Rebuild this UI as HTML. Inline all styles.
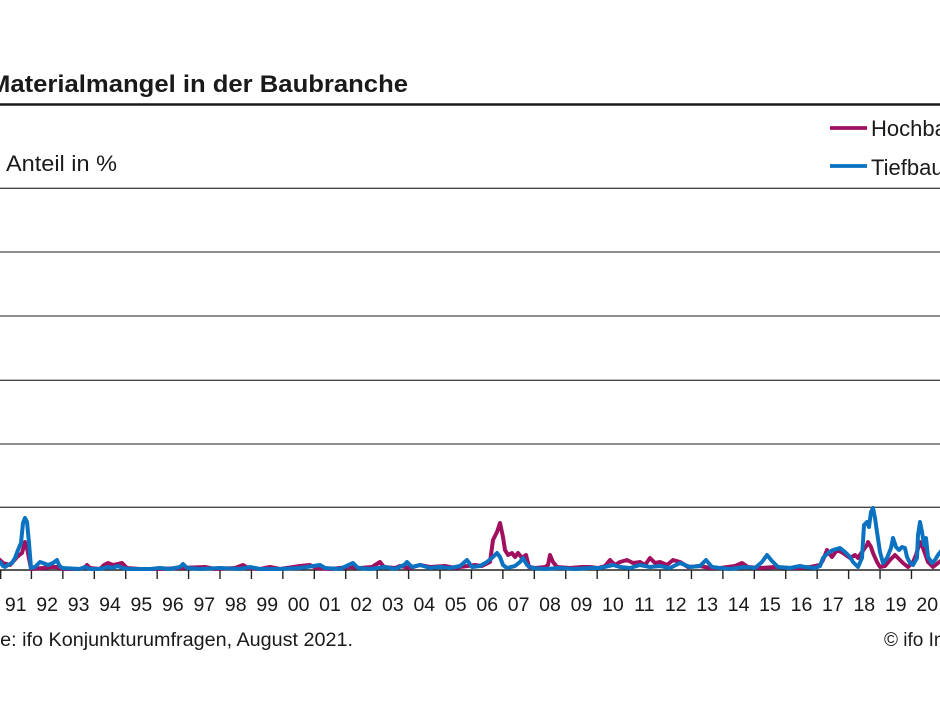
<!DOCTYPE html>
<html>
<head>
<meta charset="utf-8">
<style>
  html,body{margin:0;padding:0;background:#fff;}
  body{width:940px;height:705px;overflow:hidden;}
  svg{display:block;}
  text{font-family:"Liberation Sans",sans-serif;fill:#1a1a1a;}
</style>
</head>
<body>
<svg width="940" height="705" viewBox="0 0 940 705" xmlns="http://www.w3.org/2000/svg">
  <rect width="940" height="705" fill="#fff"/>
  <!-- Title -->
  <text x="-11" y="92" font-size="24" font-weight="bold" textLength="419" lengthAdjust="spacingAndGlyphs">Materialmangel in der Baubranche</text>
  <line x1="0" y1="104.5" x2="940" y2="104.5" stroke="#1a1a1a" stroke-width="2.4"/>

  <!-- Unit label -->
  <text x="6" y="171" font-size="22" textLength="111" lengthAdjust="spacingAndGlyphs">Anteil in %</text>

  <!-- Legend -->
  <line x1="830" y1="128" x2="867" y2="128" stroke="#a0105f" stroke-width="3.8"/>
  <text x="871" y="136" font-size="22">Hochbau</text>
  <line x1="830" y1="166" x2="867" y2="166" stroke="#0a72c0" stroke-width="3.8"/>
  <text x="871" y="175" font-size="22">Tiefbau</text>

  <!-- Gridlines -->
  <g stroke="#4a4a4a" stroke-width="1.3">
    <line x1="0" y1="188.3" x2="940" y2="188.3"/>
    <line x1="0" y1="252" x2="940" y2="252"/>
    <line x1="0" y1="316" x2="940" y2="316"/>
    <line x1="0" y1="380.3" x2="940" y2="380.3"/>
    <line x1="0" y1="444" x2="940" y2="444"/>
    <line x1="0" y1="507.3" x2="940" y2="507.3"/>
  </g>

  <!-- Axis -->
  <line x1="0" y1="570" x2="940" y2="570" stroke="#222" stroke-width="1.4"/>
  <g stroke="#222" stroke-width="1.4">
    <line x1="0.7" y1="570" x2="0.7" y2="579"/>
    <line x1="31.43" y1="570" x2="31.43" y2="579"/>
    <line x1="62.86" y1="570" x2="62.86" y2="579"/>
    <line x1="94.29" y1="570" x2="94.29" y2="579"/>
    <line x1="125.72" y1="570" x2="125.72" y2="579"/>
    <line x1="157.15" y1="570" x2="157.15" y2="579"/>
    <line x1="188.58" y1="570" x2="188.58" y2="579"/>
    <line x1="220.01" y1="570" x2="220.01" y2="579"/>
    <line x1="251.44" y1="570" x2="251.44" y2="579"/>
    <line x1="282.87" y1="570" x2="282.87" y2="579"/>
    <line x1="314.3" y1="570" x2="314.3" y2="579"/>
    <line x1="345.73" y1="570" x2="345.73" y2="579"/>
    <line x1="377.16" y1="570" x2="377.16" y2="579"/>
    <line x1="408.59" y1="570" x2="408.59" y2="579"/>
    <line x1="440.02" y1="570" x2="440.02" y2="579"/>
    <line x1="471.45" y1="570" x2="471.45" y2="579"/>
    <line x1="502.88" y1="570" x2="502.88" y2="579"/>
    <line x1="534.31" y1="570" x2="534.31" y2="579"/>
    <line x1="565.74" y1="570" x2="565.74" y2="579"/>
    <line x1="597.17" y1="570" x2="597.17" y2="579"/>
    <line x1="628.6" y1="570" x2="628.6" y2="579"/>
    <line x1="660.03" y1="570" x2="660.03" y2="579"/>
    <line x1="691.46" y1="570" x2="691.46" y2="579"/>
    <line x1="722.89" y1="570" x2="722.89" y2="579"/>
    <line x1="754.32" y1="570" x2="754.32" y2="579"/>
    <line x1="785.75" y1="570" x2="785.75" y2="579"/>
    <line x1="817.18" y1="570" x2="817.18" y2="579"/>
    <line x1="848.61" y1="570" x2="848.61" y2="579"/>
    <line x1="880.04" y1="570" x2="880.04" y2="579"/>
    <line x1="911.47" y1="570" x2="911.47" y2="579"/>
  </g>

  <!-- Hochbau (magenta) -->
  <polyline fill="none" stroke="#a0105f" stroke-width="4" stroke-linejoin="round" stroke-linecap="round" points="
    0,560 3,563 10,565 17,557 22,553 25,542 27,548 31,569 43,568 50,567 57,567 62,569 80,569 85,567 87,565 90,568 100,569
    104,565 108,563 113,565 118,564 122,563 127,568 140,569 160,569 180,568 205,567 215,569 235,568 243,565 248,568
    260,569 270,567 280,569 300,566 310,565 316,568 330,569 350,567 360,568 372,567 380,562 384,567 395,568 400,566
    410,568 420,565 430,567 445,566 455,568 460,567 475,565 482,566 490,562 493,540 497,532 500,523 503,537 505,550
    508,555 512,553 515,557 518,553 522,558 526,555 529,567 535,568 545,567 548,565 550,555 553,562 557,567 570,568
    582,567 590,567 598,568 605,566 610,560 615,565 620,562 627,560 633,563 640,562 645,565 650,558 655,563 660,562
    667,565 673,560 680,562 688,567 700,566 710,568 720,568 735,566 742,563 748,567 760,568 775,567 790,568 800,568
    810,567 820,565 823,560 827,550 829,553 832,557 837,550 843,553 850,558 855,555 858,558 862,552 867,545 868,542
    871,547 873,553 877,562 880,567 885,566 890,560 895,555 898,558 903,563 908,567 913,562 916,555 920,542 923,548
    928,562 933,567 938,563 942,560"/>

  <!-- Tiefbau (blue) -->
  <polyline fill="none" stroke="#0a72c0" stroke-width="4" stroke-linejoin="round" stroke-linecap="round" points="
    0,562 3,566 5,567 8,565 12,563 15,558 18,550 21,543 23,523 25,518 27,522 29,543 31,568 35,567 40,562 43,563
    48,565 53,563 57,560 59,565 62,568 80,569 85,567 90,569 100,569 108,567 112,568 118,566 122,568 130,569 150,569
    160,568 170,569 180,567 183,564 187,568 200,569 220,568 240,569 250,567 260,569 280,569 300,568 320,565 325,568
    340,569 353,563 358,568 370,569 385,567 395,569 404,565 407,562 412,567 420,565 430,568 440,567 450,568 460,566
    467,560 472,567 480,566 487,562 493,557 497,553 500,557 503,565 507,568 515,566 520,562 523,558 527,565 532,568
    545,569 560,568 575,569 590,568 600,568 613,565 620,567 630,568 640,565 650,567 660,566 670,568 680,563 690,567
    700,566 706,560 712,567 720,568 730,569 745,567 755,568 762,562 767,555 772,561 778,567 790,568 800,566 805,567
    815,568 820,566 823,558 828,553 833,550 840,548 845,552 850,557 853,562 858,567 862,558 864,525 867,522 869,527
    871,512 873,508 875,518 877,532 880,552 883,563 887,558 891,548 893,538 896,547 899,550 902,547 905,548 907,557
    910,563 913,565 917,558 918,535 920,522 922,532 924,545 926,538 928,557 932,563 935,560 938,555 942,550"/>

  <!-- Year labels -->
  <g font-size="19.5" text-anchor="middle">
    <text x="15.7" y="611">91</text>
    <text x="47.1" y="611">92</text>
    <text x="78.6" y="611">93</text>
    <text x="110" y="611">94</text>
    <text x="141.4" y="611">95</text>
    <text x="172.9" y="611">96</text>
    <text x="204.3" y="611">97</text>
    <text x="235.7" y="611">98</text>
    <text x="267.2" y="611">99</text>
    <text x="298.6" y="611">00</text>
    <text x="330" y="611">01</text>
    <text x="361.4" y="611">02</text>
    <text x="392.9" y="611">03</text>
    <text x="424.3" y="611">04</text>
    <text x="455.7" y="611">05</text>
    <text x="487.2" y="611">06</text>
    <text x="518.6" y="611">07</text>
    <text x="550" y="611">08</text>
    <text x="581.5" y="611">09</text>
    <text x="612.9" y="611">10</text>
    <text x="644.3" y="611">11</text>
    <text x="675.7" y="611">12</text>
    <text x="707.2" y="611">13</text>
    <text x="738.6" y="611">14</text>
    <text x="770" y="611">15</text>
    <text x="801.5" y="611">16</text>
    <text x="832.9" y="611">17</text>
    <text x="864.3" y="611">18</text>
    <text x="895.8" y="611">19</text>
    <text x="927.2" y="611">20</text>
  </g>

  <!-- Source -->
  <text x="-46" y="646" font-size="19" textLength="399" lengthAdjust="spacingAndGlyphs">Quelle: ifo Konjunkturumfragen, August 2021.</text>
  <text x="884" y="646" font-size="19">© ifo Institut</text>
</svg>
</body>
</html>
